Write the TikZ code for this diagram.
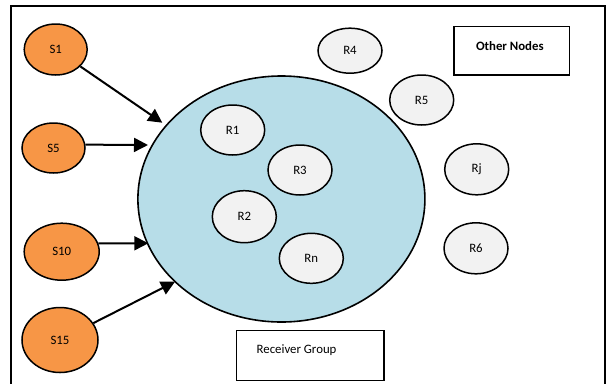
\documentclass[tikz,border=0pt]{standalone}
\usepackage{fontspec}
\setmainfont{Carlito}
\usetikzlibrary{shapes.geometric,arrows.meta}
\definecolor{sorange}{HTML}{F79646}
\definecolor{gblue}{HTML}{B7DDE8}
\definecolor{rgray}{HTML}{F2F2F2}
\begin{document}
\begin{tikzpicture}[x=1bp,y=-1bp,
  font=\fontsize{12.8bp}{15bp}\selectfont,
  snode/.style={ellipse,draw,line width=1.5bp,fill=sorange,inner sep=0pt},
  rnode/.style={ellipse,draw,line width=1.5bp,fill=rgray,inner sep=0pt,minimum width=64bp,minimum height=50bp},
  boxnode/.style={rectangle,draw,line width=1.4bp,inner sep=0pt},
  arr/.style={line width=2bp,-{Triangle[length=14bp,width=14bp]}}]
\useasboundingbox (0,0) rectangle (610,383);
\draw[line width=1.6bp] (11,6) rectangle (605,400);
% receiver group
\node[ellipse,draw,line width=1.6bp,fill=gblue,inner sep=0pt,minimum width=287bp,minimum height=246bp] (grp) at (281.4,199) {};
% senders
\node[snode,minimum width=63bp,minimum height=51bp] (S1) at (55.7,49.5) {S1};
\node[snode,minimum width=63bp,minimum height=50bp] (S5) at (53.5,148) {S5};
\node[snode,minimum width=75bp,minimum height=57bp] (S10) at (61.7,251.7) {S10};
\node[snode,minimum width=76bp,minimum height=65bp] (S15) at (60,340) {S15};
% receivers
\node[rnode] (R1) at (232.7,130) {R1};
\node[rnode] (R3) at (300,170) {R3};
\node[rnode,minimum height=52bp] (R2) at (244.3,216.7) {R2};
\node[rnode] (Rn) at (311.3,258.3) {Rn};
\node[rnode,minimum height=45bp] (R4) at (350,50.7) {R4};
\node[rnode] (R5) at (421.7,100) {R5};
\node[rnode,minimum height=51bp] (Rj) at (476.7,169.3) {Rj};
\node[rnode,minimum height=51bp] (R6) at (476,248.3) {R6};
% boxes
\node[boxnode,minimum width=115.7bp,minimum height=48.3bp,anchor=north west] (on) at (453.3,26) {};
\node[font=\fontsize{12.8bp}{15bp}\selectfont\bfseries] (ontext) at ([xshift=-2bp,yshift=-20bp]on.north) {Other Nodes};
\node[boxnode,minimum width=147.3bp,minimum height=50bp,anchor=north west] (rg) at (236,330) {};
\node[anchor=west,inner sep=0pt] (rgtext) at ([xshift=20.5bp,yshift=-20bp]rg.north west) {Receiver Group};
% arrow tips
\coordinate (t1) at (162.3,122.7);
\coordinate (t5) at (148,145);
\coordinate (t10) at (148.3,243.3);
\coordinate (t15) at (175,281.7);
\draw[arr] (S1) -- (t1);
\draw[arr] (S5.6) -- (t5);
\draw[arr] (S10.13) -- (t10);
\draw[arr] (S15) -- (t15);
\end{tikzpicture}
\end{document}
